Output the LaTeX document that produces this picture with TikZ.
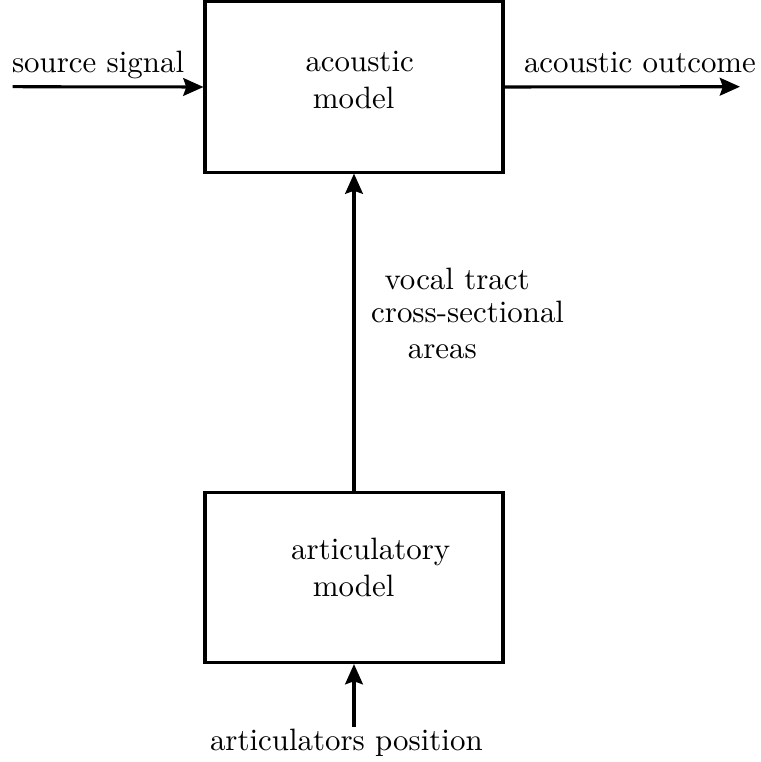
\documentclass[tikz,border=0pt]{standalone}
\usetikzlibrary{arrows.meta}
\begin{document}
\begin{tikzpicture}[x=0.3268pt,y=-0.3268pt,
  blockbox/.style={draw,line width=1pt,minimum width=97.4pt,minimum height=55.6pt,inner sep=0pt},
  lbl/.style={anchor=base west,inner sep=0pt,outer sep=0pt,font=\fontsize{10.1}{12}\selectfont},
  conn/.style={line width=1pt,-{Stealth[length=6.6pt,width=5.8pt,inset=1pt]}}]
\useasboundingbox (0,0) rectangle (760,762);
\node[blockbox] (ac) at (354,87) {};
\node[blockbox] (art) at (354,577.5) {};
\coordinate (src) at (12.7,86.7);
\coordinate (out) at (740,86.7);
\coordinate (pos) at (354,727);
\draw[conn] (src) -- (ac.west);
\draw[conn] (ac.east) -- (out);
\draw[conn] (art.north) -- (ac.south);
\draw[conn] (pos) -- (art.south);
\node[lbl] (t1) at (12,72) {source signal};
\node[lbl] (t2) at (524,72) {acoustic outcome};
\node[lbl] (t3) at (305.5,71.7) {acoustic};
\node[lbl] (t4) at (312.8,108.3) {model};
\node[lbl] (t5) at (384.5,289.3) {vocal tract};
\node[lbl] (t6) at (371.2,322.7) {cross-sectional};
\node[lbl] (t7) at (407.8,358.3) {areas};
\node[lbl] (t8) at (291.2,559.3) {articulatory};
\node[lbl] (t9) at (312.8,596.7) {model};
\node[lbl] (t10) at (210,750.7) {articulators position};
\end{tikzpicture}
\end{document}
